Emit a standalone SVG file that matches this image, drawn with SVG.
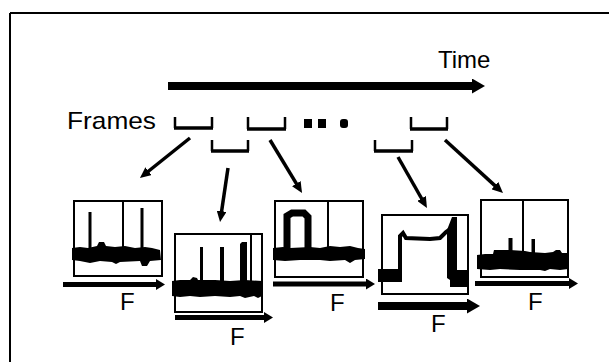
<svg xmlns="http://www.w3.org/2000/svg" width="609" height="362" viewBox="0 0 609 362">
<style>
.lbl{font-family:"Liberation Sans",Arial,sans-serif;fill:#000}
.box{fill:#fff;stroke:#000;stroke-width:2}
.div{stroke:#000;stroke-width:2}
.ink{fill:#000}
.brk{fill:none;stroke:#000;stroke-width:2.5}
.brkb{stroke:#000;stroke-width:3.5}
.con{fill:none;stroke:#000;stroke-width:3.5}
.ax{stroke:#000;stroke-width:5}
.axb{stroke:#000;stroke-width:8}
</style>
<defs>
<marker id="ah" markerUnits="userSpaceOnUse" viewBox="0 0 11 10" markerWidth="11" markerHeight="10" refX="3" refY="5" orient="auto"><path d="M0,0 L11,5 L0,10 Z" fill="#000"/></marker>
<marker id="axh" markerUnits="userSpaceOnUse" viewBox="0 0 9 11" markerWidth="9" markerHeight="11" refX="2" refY="5.5" orient="auto"><path d="M0,0 L9,5.5 L0,11 Z" fill="#000"/></marker>
<marker id="bigh" markerUnits="userSpaceOnUse" viewBox="0 0 13 15" markerWidth="13" markerHeight="15" refX="3" refY="7.5" orient="auto"><path d="M0,0 L13,7.5 L0,15 Z" fill="#000"/></marker>
</defs>
<rect x="0" y="0" width="609" height="362" fill="#fff"/>
<g id="border">
<path d="M10,13 H609 M10,13 V362" stroke="#000" stroke-width="2" fill="none"/>
</g>
<g id="time">
<text class="lbl" x="438" y="68" font-size="24">Time</text>
<line class="axb" x1="168" y1="86" x2="475" y2="86" marker-end="url(#bigh)"/>
</g>
<g id="frames-label"><text class="lbl" x="67" y="129" font-size="24" textLength="89" lengthAdjust="spacingAndGlyphs">Frames</text></g>
<g id="frame-1"><path class="brk" d="M175,117 V128 M212,117 V128"/><line class="brkb" x1="174" y1="128" x2="213" y2="128"/></g>
<g id="frame-2"><path class="brk" d="M212,140 V151 M248,140 V151"/><line class="brkb" x1="211" y1="151" x2="249" y2="151"/></g>
<g id="frame-3"><path class="brk" d="M248,117 V129 M285,117 V129"/><line class="brkb" x1="247" y1="129" x2="286" y2="129"/></g>
<g id="ellipsis">
<rect class="ink" x="304" y="119" width="8" height="9"/>
<rect class="ink" x="318" y="119" width="8" height="9"/>
<rect class="ink" x="340" y="119" width="8" height="9" rx="3"/>
</g>
<g id="frame-4"><path class="brk" d="M375,140 V151 M412,140 V151"/><line class="brkb" x1="374" y1="151" x2="413" y2="151"/></g>
<g id="frame-5"><path class="brk" d="M411,117 V129 M447,117 V129"/><line class="brkb" x1="410" y1="129" x2="448" y2="129"/></g>
<g id="connectors">
<line class="con" x1="190" y1="138" x2="146.2" y2="173" marker-end="url(#ah)"/>
<line class="con" x1="228" y1="168" x2="221.2" y2="214.1" marker-end="url(#ah)"/>
<line class="con" x1="270" y1="140" x2="297.9" y2="186.2" marker-end="url(#ah)"/>
<line class="con" x1="398" y1="157" x2="423" y2="201" marker-end="url(#ah)"/>
<line class="con" x1="445" y1="140" x2="497.1" y2="187.6" marker-end="url(#ah)"/>
</g>
<g id="plot-1">
<rect class="box" x="74" y="201" width="88" height="75"/>
<line class="div" x1="123" y1="201" x2="123" y2="248"/>
<rect class="ink" x="88.5" y="212" width="3" height="36"/>
<rect class="ink" x="140.5" y="208" width="3" height="40"/>
<path class="ink" d="M72,248 L80,247 L88,248 L97,246 L99,242 L104,242 L106,246 L115,247 L125,246 L135,248 L145,247 L152,248 L160,250 L161,260 L150,261 L147,266 L142,266 L140,261 L120,262 L116,264 L112,262 L100,261 L90,263 L80,261 L72,260 Z"/>
<line class="ax" x1="63" y1="284.5" x2="158" y2="284.5" marker-end="url(#axh)"/>
<text class="lbl" x="120" y="310" font-size="24">F</text>
</g>
<g id="plot-2">
<rect class="box" x="175" y="234" width="87" height="78"/>
<line class="div" x1="251" y1="234" x2="251" y2="282"/>
<rect class="ink" x="200" y="247" width="3" height="34"/>
<rect class="ink" x="220" y="247" width="4" height="34"/>
<path class="ink" d="M240,244 L242,242 L247,242 L247,281 L240,281 Z"/>
<path class="ink" d="M172,281 L180,280 L190,280 L193,277 L197,278 L198,280 L215,280 L230,281 L245,280 L262,281 L262,296 L258,298 L254,296 L245,298 L240,296 L230,297 L215,296 L200,297 L190,296 L180,297 L172,296 Z"/>
<line class="ax" x1="175" y1="317.5" x2="266" y2="317.5" marker-end="url(#axh)"/>
<text class="lbl" x="230" y="345" font-size="24">F</text>
</g>
<g id="plot-3">
<rect class="box" x="275" y="201" width="88" height="76"/>
<line class="div" x1="328" y1="201" x2="328" y2="248"/>
<path d="M287,250 L287,216 L292,213 L304,213 L308,217 L308,250" fill="none" stroke="#000" stroke-width="7"/>
<path class="ink" d="M273,248 L283,247 L290,248 L310,247 L320,248 L330,246 L340,247 L350,246 L358,248 L365,249 L365,259 L355,260 L350,263 L345,260 L330,261 L320,260 L300,260 L285,261 L273,260 Z"/>
<line class="ax" x1="273" y1="284" x2="368" y2="284" marker-end="url(#axh)"/>
<text class="lbl" x="330" y="311" font-size="24">F</text>
</g>
<g id="plot-4">
<rect class="box" x="382" y="215" width="86" height="79"/>
<rect class="ink" x="378" y="269" width="21" height="13"/>
<path d="M400,282 L400,236 L403,233 L406,238 L430,239 L440,238 L446,232 L449,230" fill="none" stroke="#000" stroke-width="4"/>
<path class="ink" d="M447,230 L452,217 L457,217 L457,270 L467,270 L467,287 L450,287 L450,280 L447,278 Z"/>
<line class="axb" x1="378" y1="306" x2="470" y2="306" marker-end="url(#bigh)"/>
<text class="lbl" x="431" y="332" font-size="24">F</text>
</g>
<g id="plot-5">
<rect class="box" x="481" y="200" width="87" height="77"/>
<line class="div" x1="523" y1="200" x2="523" y2="252"/>
<rect class="ink" x="508.5" y="238" width="4" height="15"/>
<rect class="ink" x="531.5" y="239" width="3.5" height="14"/>
<path class="ink" d="M477,255 L485,254 L493,254 L494,250 L510,250 L525,251 L530,252 L545,253 L553,252 L556,250 L560,250 L562,253 L568,253 L568,269 L560,270 L550,269 L545,271 L540,270 L520,270 L500,269 L490,270 L477,269 Z"/>
<line class="ax" x1="475" y1="283.5" x2="571" y2="283.5" marker-end="url(#axh)"/>
<text class="lbl" x="528" y="310" font-size="24">F</text>
</g>
</svg>
